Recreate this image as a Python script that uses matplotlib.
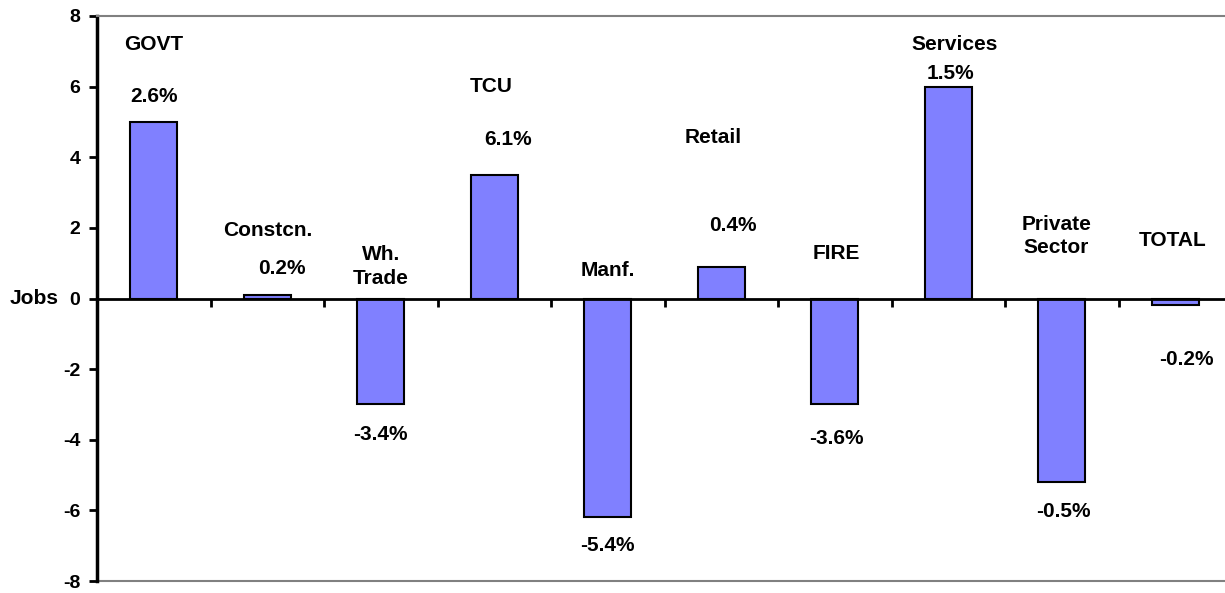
import numpy as np
import matplotlib.pyplot as plt

plt.rcParams['font.family'] = ['Liberation Sans', 'DejaVu Sans']
plt.rcParams['font.weight'] = 'bold'
plt.rcParams['axes.unicode_minus'] = False

sectors = ['GOVT', 'Constcn.', 'Wh.\nTrade', 'TCU', 'Manf.', 'Retail', 'FIRE',
           'Services', 'Private\nSector', 'TOTAL']
jobs = [5.0, 0.1, -3.0, 3.5, -6.2, 0.9, -3.0, 6.0, -5.2, -0.18]
pct_labels = ['2.6%', '0.2%', '-3.4%', '6.1%', '-5.4%', '0.4%', '-3.6%',
              '1.5%', '-0.5%', '-0.2%']

# label placement (data coords)
name_pos = [(0.0, 7.18), (0.0, 1.92), (0.0, 0.9), (-0.03, 6.0), (0.0, 0.8),
            (-0.07, 4.56), (0.01, 1.27), (0.06, 7.18), (-0.05, 1.77), (-0.02, 1.63)]
pct_pos = [(0.0, 5.72), (0.13, 0.85), (0.0, -3.86), (0.12, 4.5), (0.0, -7.0),
           (0.1, 2.06), (0.01, -3.97), (0.02, 6.37), (0.01, -6.03), (0.1, -1.72)]

x = np.arange(len(sectors))

fig = plt.figure(figsize=(12.25, 5.93), dpi=100)
ax = fig.add_axes([97 / 1225, 12 / 593, 1135 / 1225, 565 / 593])

ax.bar(x, jobs, width=0.41, color='#8080FF', edgecolor='black', linewidth=1.5, zorder=3)

ax.set_xlim(-0.5, len(sectors) - 0.5)
ax.set_ylim(-8, 8)
ax.set_yticks(np.arange(-8, 9, 2))
ax.tick_params(axis='y', length=6, width=2, pad=6, labelsize=14)

ax.spines['bottom'].set_position(('data', 0))
ax.spines['bottom'].set_linewidth(2)
ax.spines['bottom'].set_zorder(4)
ax.spines['left'].set_linewidth(2.5)
ax.spines['right'].set_visible(False)
ax.spines['top'].set_color('#808080')
ax.spines['top'].set_linewidth(1.5)
ax.axhline(-8, color='#808080', linewidth=1.5, clip_on=False)

ax.set_xticks(x[:-1] + 0.5)
ax.set_xticklabels([])
ax.tick_params(axis='x', direction='out', length=6, width=2)

for i, name in enumerate(sectors):
    ax.text(x[i] + name_pos[i][0], name_pos[i][1], name, ha='center', va='center',
            fontsize=15, fontweight='bold', linespacing=1.3)
    ax.text(x[i] + pct_pos[i][0], pct_pos[i][1], pct_labels[i], ha='center', va='center',
            fontsize=15, fontweight='bold')

ax.text(-0.055, 0, 'Jobs', transform=ax.get_yaxis_transform(), ha='center', va='center',
        fontsize=15, fontweight='bold')

plt.savefig('out.png', dpi=100)
